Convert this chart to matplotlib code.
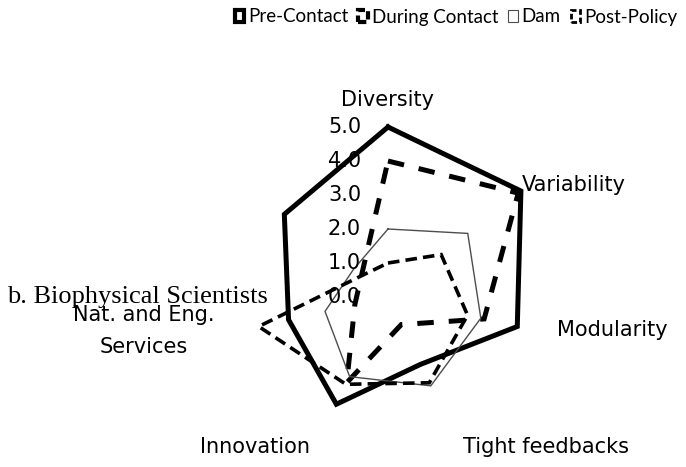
import numpy as np
import matplotlib
matplotlib.use("Agg")
import matplotlib.pyplot as plt
from matplotlib.patches import Patch
from matplotlib.transforms import offset_copy

# ---- data ----
categories = ["Diversity", "Variability", "Modularity", "Tight feedbacks",
              "Innovation", "Nat. and Eng.\nServices", ""]
series_names = ["Pre-Contact", "During Contact", "Dam", "Post-Policy"]
pre_contact = [5.0, 5.0, 3.9, 2.2, 3.5, 3.0, 3.9]
during_contact = [4.0, 4.9, 2.9, 0.9, 2.8, 1.0, 1.0]
dam = [2.0, 3.0, 2.8, 2.9, 2.6, 1.9, 1.3]
post_policy = [1.0, 2.0, 2.4, 2.8, 2.85, 3.9, 1.0]
r_ticks = [0.0, 1.0, 2.0, 3.0, 4.0, 5.0]
panel_title = "b. Biophysical Scientists"

FONT = ["DejaVu Sans"]
FS = 15
W, H = 686, 467
fig = plt.figure(figsize=(W / 100, H / 100), dpi=100)
cx, cy, R = 388, 297, 170
ax = fig.add_axes([(cx - R) / W, (H - cy - R) / H, 2 * R / W, 2 * R / H],
                  projection="polar")
ax.set_theta_offset(np.pi / 2)
ax.set_theta_direction(-1)
ax.set_ylim(0, 5)
ax.grid(False)
ax.spines["polar"].set_visible(False)
ax.patch.set_alpha(0)

n = len(categories)
angles = np.linspace(0, 2 * np.pi, n, endpoint=False)
ax.set_xticks(angles)
ax.set_xticklabels([])
ax.set_yticks(r_ticks)
ax.set_yticklabels([])
ax.tick_params(length=0)

styles = [
    dict(color="black", lw=3.6, ls="-"),
    dict(color="black", lw=3.6, ls=(0, (3.3, 3.0))),
    dict(color="#4d4d4d", lw=1.0, ls="-"),
    dict(color="black", lw=2.6, ls=(0, (3.2, 1.7))),
]
all_series = [pre_contact, during_contact, dam, post_policy]
theta = np.concatenate([angles, angles[:1]])
for vals, st in zip(all_series, styles):
    v = list(vals) + [vals[0]]
    ax.plot(theta, v, color=st["color"], lw=st["lw"], linestyle=st["ls"],
            solid_joinstyle="miter", dash_joinstyle="miter", clip_on=False)

# radial tick labels along the top spoke
for r in r_ticks:
    ax.text(0, r, f"{r:.1f}",
            transform=offset_copy(ax.transData, fig=fig, x=-27, y=0, units="dots"),
            ha="right", va="center", fontsize=FS, family=FONT)

# category labels
def px(x, y):
    return x / W, 1 - y / H

fig.text(*px(387, 100), categories[0], ha="center", va="center", fontsize=FS, family=FONT)
fig.text(*px(522, 185), categories[1], ha="left", va="center", fontsize=FS, family=FONT)
fig.text(*px(557, 330), categories[2], ha="left", va="center", fontsize=FS, family=FONT)
fig.text(*px(463, 447), categories[3], ha="left", va="center", fontsize=FS, family=FONT)
fig.text(*px(310, 447), categories[4], ha="right", va="center", fontsize=FS, family=FONT)
fig.text(*px(144, 331), categories[5], ha="center", va="center", fontsize=FS,
         family=FONT, linespacing=1.75)
fig.text(*px(7, 297), panel_title, ha="left", va="center", fontsize=19,
         family=["Liberation Serif", "DejaVu Serif"])

# legend
handles = [
    Patch(facecolor="white", edgecolor="black", lw=3.0, ls="-"),
    Patch(facecolor="white", edgecolor="black", lw=3.0, ls=(0, (2, 1))),
    Patch(facecolor="white", edgecolor="#4d4d4d", lw=0.8, ls="-"),
    Patch(facecolor="white", edgecolor="black", lw=2.0, ls=(0, (2, 1))),
]
fig.legend(handles, series_names, loc="center", bbox_to_anchor=px(456, 17),
           ncol=4, frameon=False, handlelength=0.5, handleheight=0.6,
           handletextpad=0.2, columnspacing=0.55, borderpad=0.1,
           prop={"family": ["Lato", "DejaVu Sans"], "size": 13.5})

fig.savefig("out.png", dpi=100, facecolor="white")
